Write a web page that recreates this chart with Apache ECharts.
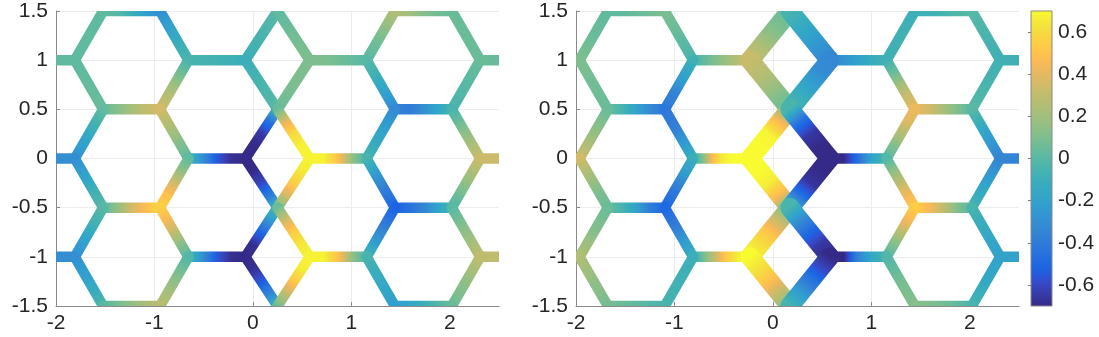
<!DOCTYPE html>
<html><head><meta charset="utf-8">
<script src="https://cdn.jsdelivr.net/npm/echarts@6/dist/echarts.min.js"></script>
<style>html,body{margin:0;padding:0;background:#fff}#c{width:1099px;height:337px}</style>
</head><body><div id="c"></div>
<script>
// ---------- data ----------
const xTicks = [-2, -1, 0, 1, 2];
const yTicks = [-1.5, -1, -0.5, 0, 0.5, 1, 1.5];
const cbTicks = [-0.6, -0.4, -0.2, 0, 0.2, 0.4, 0.6];
const cRange = [-0.7, 0.7];
const xRange = [-2, 2.5];
const yRange = [-1.5, 1.5];

// lattice vertex x-positions (by column name)
const nodesLeft = {X0:-2.387, L5:-1.809, L4:-1.521, L3:-0.943, L2:-0.655, L1:-0.077, C:0.25,
  R1:0.577, R2:1.155, R3:1.443, R4:2.021, R5:2.309, X6:2.887};
const nodesRight = {X0:-2.541, L5:-1.964, L4:-1.676, L3:-1.098, L2:-0.81, L1:-0.232, C:0.1725,
  R1:0.577, R2:1.155, R3:1.443, R4:2.021, R5:2.309, X6:2.887};

// edges: [fromCol, fromY, toCol, toY, values sampled evenly along the edge]
const edgesLeft = [
  ['L4',1.5,'L3',1.5,[0.02,0.0,-0.1,-0.22,-0.3]],
  ['R3',1.5,'R4',1.5,[0.25,0.2,0.12,0.07,0.05]],
  ['X0',1,'L5',1,[0.03,0.03,0.02]],
  ['L2',1,'L1',1,[-0.05,-0.06,-0.08,-0.1]],
  ['R1',1,'R2',1,[0.1,0.1,0.07,0.03,0.0]],
  ['R5',1,'X6',1,[0.05,0.03]],
  ['L5',1,'L4',1.5,[0.02,0.02]],
  ['L2',1,'L3',1.5,[-0.05,-0.1,-0.2,-0.3]],
  ['L1',1,'C',1.5,[-0.1,-0.05,0.0]],
  ['R1',1,'C',1.5,[0.1,0.07,0.02]],
  ['R2',1,'R3',1.5,[0.0,0.1,0.25]],
  ['R5',1,'R4',1.5,[0.05,0.05]],
  ['L5',1,'L4',0.5,[0.02,0.05]],
  ['L2',1,'L3',0.5,[-0.05,0.1,0.25,0.35]],
  ['L1',1,'C',0.5,[-0.1,-0.05,0.0]],
  ['R1',1,'C',0.5,[0.1,0.1,0.05]],
  ['R2',1,'R3',0.5,[0.0,-0.1,-0.2,-0.32]],
  ['R5',1,'R4',0.5,[0.05,0.0,-0.05]],
  ['L4',0.5,'L3',0.5,[0.03,0.15,0.28,0.35]],
  ['R3',0.5,'R4',0.5,[-0.35,-0.4,-0.3,-0.18,-0.05]],
  ['L5',0,'L4',0.5,[-0.3,-0.2,-0.08,0.03]],
  ['L2',0,'L3',0.5,[0.02,0.12,0.25,0.35]],
  ['L1',0,'C',0.5,[-0.7,-0.7,-0.65,-0.45,-0.05]],
  ['R1',0,'C',0.5,[0.68,0.68,0.6,0.4,0.05]],
  ['R2',0,'R3',0.5,[-0.05,-0.18,-0.32]],
  ['R5',0,'R4',0.5,[0.33,0.15,-0.05]],
  ['X0',0,'L5',0,[-0.3,-0.3]],
  ['L2',0,'L1',0,[-0.05,-0.3,-0.55,-0.68,-0.7]],
  ['R1',0,'R2',0,[0.68,0.68,0.5,0.15,-0.05]],
  ['R5',0,'X6',0,[0.33,0.33]],
  ['L5',0,'L4',-0.5,[-0.3,-0.2,-0.08,0.0]],
  ['L2',0,'L3',-0.5,[0.02,0.15,0.35,0.5,0.55]],
  ['L1',0,'C',-0.5,[-0.7,-0.7,-0.6,-0.4,-0.05]],
  ['R1',0,'C',-0.5,[0.68,0.65,0.55,0.35,0.05]],
  ['R2',0,'R3',-0.5,[-0.05,-0.25,-0.4,-0.52]],
  ['R5',0,'R4',-0.5,[0.33,0.15,-0.03]],
  ['L4',-0.5,'L3',-0.5,[0.0,0.15,0.35,0.48,0.58]],
  ['R3',-0.5,'R4',-0.5,[-0.52,-0.45,-0.35,-0.2,-0.05]],
  ['L5',-1,'L4',-0.5,[-0.3,-0.2,-0.08,0.0]],
  ['L2',-1,'L3',-0.5,[0.0,0.12,0.3,0.45,0.55]],
  ['L1',-1,'C',-0.5,[-0.7,-0.68,-0.5,-0.25,0.0]],
  ['R1',-1,'C',-0.5,[0.68,0.65,0.55,0.35,0.05]],
  ['R2',-1,'R3',-0.5,[-0.05,-0.25,-0.4,-0.52]],
  ['R5',-1,'R4',-0.5,[0.3,0.15,0.0]],
  ['X0',-1,'L5',-1,[-0.3,-0.3]],
  ['L2',-1,'L1',-1,[-0.02,-0.3,-0.55,-0.68,-0.7]],
  ['R1',-1,'R2',-1,[0.68,0.68,0.5,0.15,-0.05]],
  ['R5',-1,'X6',-1,[0.3,0.3]],
  ['L5',-1,'L4',-1.5,[-0.3,-0.18,-0.02]],
  ['L2',-1,'L3',-1.5,[-0.02,0.15,0.28]],
  ['L1',-1,'C',-1.5,[-0.7,-0.68,-0.55,-0.35,-0.05]],
  ['R1',-1,'C',-1.5,[0.68,0.66,0.52,0.3,0.05]],
  ['R2',-1,'R3',-1.5,[-0.05,-0.15,-0.22]],
  ['R5',-1,'R4',-1.5,[0.3,0.15,0.05]],
  ['L4',-1.5,'L3',-1.5,[0.0,0.1,0.2,0.28]],
  ['R3',-1.5,'R4',-1.5,[-0.22,-0.15,-0.05,0.05]]
];

const edgesRight = [
  ['L4',1.5,'L3',1.5,[0.02,0.03,0.06,0.1]],
  ['R3',1.5,'R4',1.5,[-0.1,-0.08,-0.03,0.0]],
  ['X0',1,'L5',1,[0.1,0.1]],
  ['L2',1,'L1',1,[-0.05,0.05,0.15,0.25,0.32]],
  ['R1',1,'R2',1,[-0.33,-0.28,-0.2,-0.12,-0.08]],
  ['R5',1,'X6',1,[-0.08,-0.08]],
  ['L5',1,'L4',1.5,[0.1,0.05,0.02]],
  ['L2',1,'L3',1.5,[-0.05,0.03,0.1]],
  ['L1',1,'C',1.5,[0.32,0.25,0.15,0.08,0.05]],
  ['R1',1,'C',1.5,[-0.33,-0.28,-0.2,-0.12,-0.05]],
  ['R2',1,'R3',1.5,[-0.08,-0.08,-0.1]],
  ['R5',1,'R4',1.5,[-0.08,-0.05,0.0]],
  ['L5',1,'L4',0.5,[0.1,0.07,0.05]],
  ['L2',1,'L3',0.5,[-0.08,-0.2,-0.35,-0.42]],
  ['L1',1,'C',0.5,[0.32,0.28,0.2,0.1,0.05]],
  ['R1',1,'C',0.5,[-0.33,-0.3,-0.2,-0.1,-0.05]],
  ['R2',1,'R3',0.5,[-0.08,0.1,0.3,0.42]],
  ['R5',1,'R4',0.5,[-0.08,-0.05,0.0]],
  ['L4',0.5,'L3',0.5,[0.05,-0.05,-0.2,-0.32,-0.42]],
  ['R3',0.5,'R4',0.5,[0.42,0.35,0.22,0.1,0.0]],
  ['L5',0,'L4',0.5,[0.35,0.22,0.12,0.05]],
  ['L2',0,'L3',0.5,[-0.1,-0.25,-0.38,-0.42]],
  ['L1',0,'C',0.5,[0.7,0.7,0.68,0.45,0.05]],
  ['R1',0,'C',0.5,[-0.7,-0.7,-0.65,-0.45,-0.05]],
  ['R2',0,'R3',0.5,[0.0,0.1,0.25,0.38,0.42]],
  ['R5',0,'R4',0.5,[-0.35,-0.2,0.0]],
  ['X0',0,'L5',0,[0.35,0.35]],
  ['L2',0,'L1',0,[-0.1,0.1,0.45,0.65,0.7,0.7,0.7]],
  ['R1',0,'R2',0,[-0.7,-0.7,-0.45,-0.18,-0.02]],
  ['R5',0,'X6',0,[-0.35,-0.35]],
  ['L5',0,'L4',-0.5,[0.35,0.22,0.1,0.05]],
  ['L2',0,'L3',-0.5,[-0.1,-0.25,-0.42,-0.5]],
  ['L1',0,'C',-0.5,[0.7,0.7,0.66,0.45,0.05]],
  ['R1',0,'C',-0.5,[-0.7,-0.7,-0.66,-0.45,-0.05]],
  ['R2',0,'R3',-0.5,[-0.02,0.2,0.4,0.55]],
  ['R5',0,'R4',-0.5,[-0.35,-0.2,-0.05]],
  ['L4',-0.5,'L3',-0.5,[0.05,-0.05,-0.2,-0.4,-0.5]],
  ['R3',-0.5,'R4',-0.5,[0.55,0.45,0.3,0.1,0.0]],
  ['L5',-1,'L4',-0.5,[0.25,0.12,0.05]],
  ['L2',-1,'L3',-0.5,[-0.1,-0.25,-0.4,-0.5]],
  ['L1',-1,'C',-0.5,[0.7,0.62,0.5,0.3,0.05]],
  ['R1',-1,'C',-0.5,[-0.7,-0.65,-0.5,-0.3,-0.05]],
  ['R2',-1,'R3',-0.5,[-0.02,0.15,0.4,0.55]],
  ['R5',-1,'R4',-0.5,[-0.2,-0.15,-0.05]],
  ['X0',-1,'L5',-1,[0.25,0.25]],
  ['L2',-1,'L1',-1,[-0.1,0.05,0.25,0.45,0.6,0.68,0.7]],
  ['R1',-1,'R2',-1,[-0.7,-0.7,-0.35,-0.15,-0.05]],
  ['R5',-1,'X6',-1,[-0.2,-0.2]],
  ['L5',-1,'L4',-1.5,[0.25,0.15,0.08]],
  ['L2',-1,'L3',-1.5,[-0.1,-0.08,-0.05]],
  ['L1',-1,'C',-1.5,[0.7,0.62,0.48,0.3,0.05]],
  ['R1',-1,'C',-1.5,[-0.7,-0.58,-0.42,-0.22,-0.05]],
  ['R2',-1,'R3',-1.5,[-0.02,0.08,0.12]],
  ['R5',-1,'R4',-1.5,[-0.2,-0.15,-0.05]],
  ['L4',-1.5,'L3',-1.5,[0.08,0.02,-0.05]],
  ['R3',-1.5,'R4',-1.5,[0.12,0.1,0.05,-0.05]]
];

// ---------- colormap (parula) ----------
const PARULA = [
[0.2081,0.1663,0.5292],[0.2116,0.1898,0.5777],[0.2123,0.2138,0.6270],[0.2081,0.2386,0.6771],
[0.1959,0.2645,0.7279],[0.1707,0.2919,0.7792],[0.1253,0.3242,0.8303],[0.0591,0.3598,0.8683],
[0.0117,0.3875,0.8820],[0.0060,0.4086,0.8828],[0.0165,0.4266,0.8786],[0.0329,0.4430,0.8720],
[0.0498,0.4586,0.8641],[0.0629,0.4737,0.8554],[0.0723,0.4887,0.8467],[0.0779,0.5040,0.8384],
[0.0793,0.5200,0.8312],[0.0749,0.5375,0.8263],[0.0641,0.5570,0.8240],[0.0488,0.5772,0.8228],
[0.0343,0.5966,0.8199],[0.0265,0.6137,0.8135],[0.0239,0.6287,0.8038],[0.0231,0.6418,0.7913],
[0.0228,0.6535,0.7768],[0.0267,0.6642,0.7607],[0.0384,0.6743,0.7436],[0.0590,0.6838,0.7254],
[0.0843,0.6928,0.7062],[0.1133,0.7015,0.6859],[0.1453,0.7098,0.6646],[0.1801,0.7177,0.6424],
[0.2178,0.7250,0.6193],[0.2586,0.7317,0.5954],[0.3022,0.7376,0.5712],[0.3482,0.7424,0.5473],
[0.3953,0.7459,0.5244],[0.4420,0.7481,0.5033],[0.4871,0.7491,0.4840],[0.5300,0.7491,0.4661],
[0.5709,0.7485,0.4494],[0.6099,0.7473,0.4337],[0.6473,0.7456,0.4188],[0.6834,0.7435,0.4044],
[0.7184,0.7411,0.3905],[0.7525,0.7384,0.3768],[0.7858,0.7356,0.3633],[0.8185,0.7327,0.3498],
[0.8507,0.7299,0.3360],[0.8824,0.7274,0.3217],[0.9139,0.7258,0.3063],[0.9450,0.7261,0.2886],
[0.9739,0.7314,0.2666],[0.9938,0.7455,0.2403],[0.9990,0.7653,0.2164],[0.9955,0.7861,0.1967],
[0.9880,0.8066,0.1794],[0.9789,0.8271,0.1633],[0.9697,0.8481,0.1475],[0.9626,0.8705,0.1309],
[0.9589,0.8949,0.1132],[0.9598,0.9218,0.0948],[0.9661,0.9514,0.0755],[0.9763,0.9831,0.0538]];

function parula(v) {
  let t = (v - cRange[0]) / (cRange[1] - cRange[0]);
  t = Math.max(0, Math.min(1, t));
  const f = t * (PARULA.length - 1);
  const i = Math.min(PARULA.length - 2, Math.floor(f));
  const r = f - i;
  const c = PARULA[i].map((a, k) => a + (PARULA[i + 1][k] - a) * r);
  // slight display-profile shift seen in the reference (muted cyan/blue)
  c[0] = c[0] + 0.28 * Math.max(0, c[1] - c[0]);
  c[2] = c[2] + 0.15 * Math.max(0, c[1] - c[2]);
  return 'rgb(' + c.map(x => Math.round(Math.min(1, x) * 255)).join(',') + ')';
}
function sampleAt(samples, t) {
  const f = t * (samples.length - 1);
  const i = Math.min(samples.length - 2, Math.floor(f));
  const r = f - i;
  return samples[i] + (samples[i + 1] - samples[i]) * r;
}

const THIN = 10.5, THICK = 19;

function buildSeries(edges, nodes, gridIdx, thickCenter) {
  const order = edges.map((e, i) => i);
  if (thickCenter) order.sort((a, b) => {
    const ta = (edges[a][0] === 'C' || edges[a][2] === 'C') ? 1 : 0;
    const tb = (edges[b][0] === 'C' || edges[b][2] === 'C') ? 1 : 0;
    return ta - tb;
  });
  const data = order.map(i => [nodes[edges[i][0]], edges[i][1], nodes[edges[i][2]], edges[i][3], i]);
  return {
    type: 'custom', xAxisIndex: gridIdx, yAxisIndex: gridIdx, clip: true,
    encode: {x: [0, 2], y: [1, 3]},
    data: data,
    renderItem: function (params, api) {
      const idx = api.value(4);
      const e = edges[idx];
      const p1 = api.coord([api.value(0), api.value(1)]);
      const p2 = api.coord([api.value(2), api.value(3)]);
      const stops = [];
      const N = 24;
      for (let k = 0; k <= N; k++) {
        const t = k / N;
        stops.push({offset: t, color: parula(sampleAt(e[4], t))});
      }
      const isThick = thickCenter && (e[0] === 'C' || e[2] === 'C');
      return {
        type: 'line',
        shape: {x1: p1[0], y1: p1[1], x2: p2[0], y2: p2[1]},
        style: {
          stroke: {type: 'linear', x: p1[0], y: p1[1], x2: p2[0], y2: p2[1], global: true, colorStops: stops},
          lineWidth: isThick ? THICK : THIN,
          lineCap: 'round',
          fill: null
        }
      };
    }
  };
}

const FONT = "'Liberation Sans', Helvetica, Arial, sans-serif";
const FS = 21;
const AX = '#8a8a8a';
function xAxisFor(gi) {
  return {
    type: 'value', gridIndex: gi, min: xRange[0], max: xRange[1], interval: 1,
    axisLine: {show: true, onZero: false, lineStyle: {color: AX, width: 1}},
    axisTick: {show: true, inside: true, length: 4, customValues: xTicks, lineStyle: {color: AX}},
    axisLabel: {customValues: xTicks, color: '#262626', fontSize: FS, fontFamily: FONT, margin: 7},
    splitLine: {show: true, showMaxLine: false, lineStyle: {color: '#ececec', width: 1}}
  };
}
function yAxisFor(gi) {
  return {
    type: 'value', gridIndex: gi, min: yRange[0], max: yRange[1], interval: 0.5,
    axisLine: {show: true, onZero: false, lineStyle: {color: AX, width: 1}},
    axisTick: {show: true, inside: true, length: 4, lineStyle: {color: AX}},
    axisLabel: {color: '#262626', fontSize: FS, fontFamily: FONT, margin: 8},
    splitLine: {show: true, lineStyle: {color: '#ececec', width: 1}}
  };
}

const chart = echarts.init(document.getElementById('c'), null, {renderer: 'canvas'});
chart.setOption({
  animation: false,
  backgroundColor: '#ffffff',
  grid: [
    {left: 56, top: 11, width: 443, height: 295},
    {left: 576, top: 11, width: 443, height: 295},
    {left: 1031, top: 11, width: 21, height: 295}
  ],
  xAxis: [xAxisFor(0), xAxisFor(1),
    {type: 'value', gridIndex: 2, min: 0, max: 1, show: false}],
  yAxis: [yAxisFor(0), yAxisFor(1),
    {type: 'value', gridIndex: 2, min: cRange[0], max: cRange[1], position: 'right',
     axisLine: {show: false},
     axisTick: {show: true, inside: true, length: 3, customValues: cbTicks, lineStyle: {color: '#777'}},
     axisLabel: {customValues: cbTicks, color: '#262626', fontSize: FS, fontFamily: FONT, margin: 6},
     splitLine: {show: false}}],
  series: [
    buildSeries(edgesLeft, nodesLeft, 0, false),
    buildSeries(edgesRight, nodesRight, 1, true),
    {
      type: 'custom', xAxisIndex: 2, yAxisIndex: 2, z: 1,
      data: [[0, cRange[0], 1, cRange[1]]],
      renderItem: function (params, api) {
        const a = api.coord([api.value(0), api.value(1)]);
        const b = api.coord([api.value(2), api.value(3)]);
        const stops = PARULA.map((c, k) => ({offset: k / (PARULA.length - 1),
          color: parula(cRange[0] + (cRange[1] - cRange[0]) * k / (PARULA.length - 1))}));
        return {
          type: 'rect',
          shape: {x: a[0], y: b[1], width: b[0] - a[0], height: a[1] - b[1]},
          style: {
            fill: {type: 'linear', x: 0, y: 1, x2: 0, y2: 0, colorStops: stops},
            stroke: '#8a8a8a', lineWidth: 1
          }
        };
      }
    }
  ]
});
</script></body></html>
